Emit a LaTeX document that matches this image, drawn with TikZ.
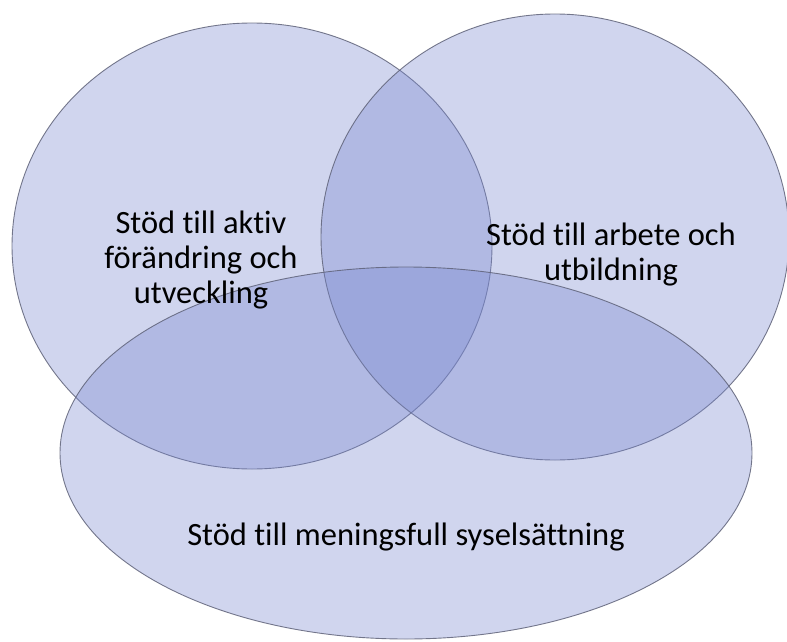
\documentclass[tikz,border=0pt]{standalone}
\usepackage{fontspec}
\setmainfont{Carlito}[Ligatures=NoCommon]
\usetikzlibrary{shapes.geometric}
\definecolor{vennfill}{RGB}{119,134,207}
\definecolor{vennline}{RGB}{95,98,120}
\tikzset{
  venn/.style={ellipse, draw=vennline, line width=0.9pt, fill=vennfill, fill opacity=0.35, draw opacity=0.85, inner sep=0pt},
  lbl/.style={align=center, text=black, font=\fontsize{32.5}{35}\selectfont, inner sep=0pt}
}
\begin{document}
\begin{tikzpicture}[x=1pt,y=-1pt]
\useasboundingbox (0,0) rectangle (787,642);
\node[venn, minimum width=480pt, minimum height=446pt] (left) at (252,246) {};
\node[venn, minimum width=468pt, minimum height=446pt] (right) at (555,237) {};
\node[venn, minimum width=692pt, minimum height=372pt] (bottom) at (406,453) {};
\node[lbl] (tleft) at (201,260) {Stöd till aktiv\\förändring och\\utveckling};
\node[lbl] (tright) at (611,255) {Stöd till arbete och\\utbildning};
\node[lbl] (tbottom) at (406,537) {Stöd till meningsfull syselsättning};
\end{tikzpicture}
\end{document}
